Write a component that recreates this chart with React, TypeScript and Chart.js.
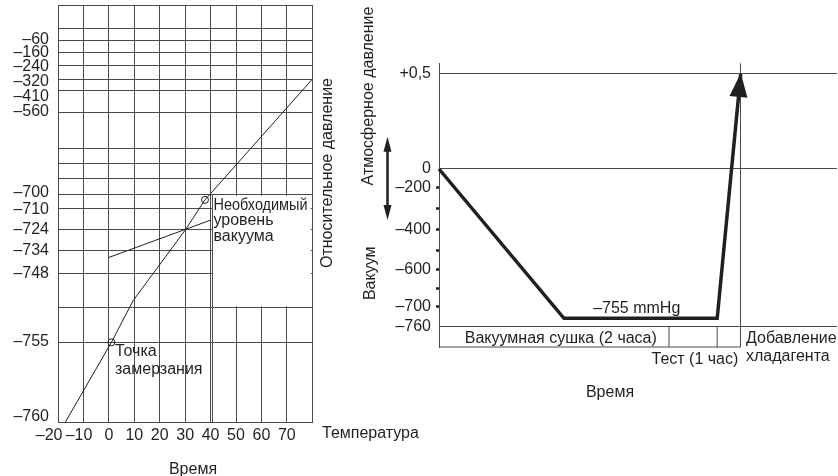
import React, { useEffect, useRef } from 'react';
import { Chart, registerables } from 'chart.js';

Chart.register(...registerables);

const FONT = '"Liberation Sans", Arial, Helvetica, sans-serif';
const FS = 16;
const INK = '#231f20';
const GRID = '#4a4a4a';

// ---------- Left chart: water boiling point vs. vacuum ----------
const TEMP_TICKS = [-20, -10, 0, 10, 20, 30, 40, 50, 60, 70, 80];
const TEMP_LABELS = ['–20\u2007\u2007', '–10\u2007', '0', '10', '20', '30', '40', '50', '60', '70', ''];
// schematic (non-linear) pressure axis: position of each grid line, bottom = 0
const PRESS_GRID_POS = [0, 80.4, 115, 149.4, 172.7, 193.4, 214.4, 228.5, 244.4, 259.4, 274.4, 310.4, 332, 343.7, 357, 370.4, 382.7, 394.4, 418];
const PRESS_LABELS = ['–60', '–160', '–240', '–320', '–410', '–560', '–700', '–710', '–724', '–734', '–748', '–755', '–760'];
const PRESS_LABEL_POS = [383.4, 370.4, 356, 341, 326, 311, 230, 213.7, 193.4, 172.7, 149.7, 80.7, 5.7];
const CURVE_TEMP = [-17.25, 1, 9.5, 30.2, 37.8, 80];
const CURVE_POS = [0, 80.4, 122, 193.4, 223, 343.7];
const REQ_LINE_TEMP = [0, 40];
const REQ_LINE_POS = [165.4, 202.7];
const MARK_TEMP = [1, 37.8];
const MARK_POS = [80.4, 223];
const BOX_TEMP = [40, 80];
const BOX_POS = [115, 228.5];
const BOX_EDGE_TEMP = 40.75;

// ---------- Right chart: evacuation procedure ----------
const PROFILE_TIME = [0, 31.4, 69.9, 75.8];
const PROFILE_POS = [178, 28.7, 28.7, 273];
const STAGE_EDGES = [57.8, 69.9, 75.8];
const STAGE_ROW_POS = [0, 20.3];
const VAC_LABELS = ['+0,5', '0', '–200', '', '–400', '', '–600', '', '–700', '–760'];
const VAC_POS = [273, 178, 159.3, 138, 117.5, 97, 77, 58.7, 40.3, 20.3];
const VAC_KIND = ['line', 'line', 'dot', 'dot', 'dot', 'dot', 'dot', 'dot', 'dot', 'line'];

const font = { family: FONT, size: FS };

const LEFT_Y_TICKS = [
  ...PRESS_GRID_POS.map((p) => ({ pos: p, label: '' })),
  ...PRESS_LABEL_POS.map((p, i) => ({ pos: p, label: PRESS_LABELS[i] })),
].sort((a, b) => a.pos - b.pos);

function zeroPad(s: any) {
  s.paddingTop = 0;
  s.paddingBottom = 0;
  s.paddingLeft = 0;
  s.paddingRight = 0;
}

function text(ctx: CanvasRenderingContext2D, s: string, x: number, y: number, align: CanvasTextAlign = 'left', maxW?: number) {
  ctx.textAlign = align;
  if (maxW) ctx.fillText(s, x, y, maxW);
  else ctx.fillText(s, x, y);
}

function rotText(ctx: CanvasRenderingContext2D, s: string, cx: number, cy: number) {
  ctx.save();
  ctx.translate(cx, cy);
  ctx.rotate(-Math.PI / 2);
  ctx.textAlign = 'center';
  ctx.textBaseline = 'middle';
  ctx.fillText(s, 0, 0);
  ctx.restore();
}

const leftPlugin = {
  id: 'leftDeco',
  beforeDatasetsDraw(chart: any) {
    const { ctx, scales } = chart;
    const x = scales.x, y = scales.y;
    const x0 = x.getPixelForValue(BOX_TEMP[0]) + 1.5;
    const x1 = x.getPixelForValue(BOX_TEMP[1]) - 1.5;
    const yT = y.getPixelForValue(BOX_POS[1]) + 1.5;
    const yB = y.getPixelForValue(BOX_POS[0]) - 1.5;
    ctx.save();
    ctx.fillStyle = '#fff';
    ctx.fillRect(x0, yT, x1 - x0, yB - yT);
    ctx.restore();
  },
  afterDraw(chart: any) {
    const { ctx } = chart;
    ctx.save();
    ctx.font = `${FS}px ${FONT}`;
    ctx.fillStyle = INK;
    ctx.textBaseline = 'alphabetic';
    text(ctx, 'Необходимый', 213.5, 209.5, 'left', 94);
    text(ctx, 'уровень', 213.5, 225);
    text(ctx, 'вакуума', 213.5, 240.5);
    text(ctx, 'Точка', 115, 356);
    text(ctx, 'замерзания', 115, 374);
    text(ctx, 'Температура', 322, 437.5);
    text(ctx, 'Время', 193, 473.5, 'center');
    ctx.restore();
  },
};

const rightPlugin = {
  id: 'rightDeco',
  afterDatasetsDraw(chart: any) {
    const { ctx } = chart;
    const meta = chart.getDatasetMeta(0);
    const pts = meta.data;
    const p1 = pts[pts.length - 2], p2 = pts[pts.length - 1];
    const dx = p2.x - p1.x, dy = p2.y - p1.y;
    const len = Math.hypot(dx, dy);
    const ux = dx / len, uy = dy / len;
    const nx = -uy, ny = ux;
    const tipX = p2.x + ux * 1, tipY = p2.y + uy * 1;
    const bx = tipX - ux * 24, by = tipY - uy * 24;
    ctx.save();
    ctx.fillStyle = INK;
    ctx.beginPath();
    ctx.moveTo(tipX, tipY);
    ctx.lineTo(bx + nx * 9, by + ny * 9);
    ctx.lineTo(bx - nx * 9, by - ny * 9);
    ctx.closePath();
    ctx.fill();
    ctx.restore();
  },
  afterDraw(chart: any) {
    const { ctx } = chart;
    ctx.save();
    ctx.font = `${FS}px ${FONT}`;
    ctx.fillStyle = INK;
    ctx.textBaseline = 'alphabetic';
    text(ctx, '–755 mmHg', 636.7, 313.3, 'center');
    text(ctx, 'Вакуумная сушка (2 часа)', 560.8, 342.5, 'center');
    text(ctx, 'Тест (1 час)', 738.3, 364, 'right');
    text(ctx, 'Добавление', 746, 342.7);
    text(ctx, 'хладагента', 746, 360.7);
    text(ctx, 'Время', 610, 397.3, 'center');
    rotText(ctx, 'Относительное давление', 327.5, 173);
    rotText(ctx, 'Атмосферное давление', 368.6, 96);
    rotText(ctx, 'Вакуум', 371, 273.3);
    // double arrow
    const ax = 387.5, aTop = 136.7, aBot = 220;
    ctx.strokeStyle = INK;
    ctx.lineWidth = 2.5;
    ctx.beginPath();
    ctx.moveTo(ax, aTop + 10);
    ctx.lineTo(ax, aBot - 10);
    ctx.stroke();
    ctx.beginPath();
    ctx.moveTo(ax, aTop);
    ctx.lineTo(ax + 4, aTop + 15);
    ctx.lineTo(ax - 4, aTop + 15);
    ctx.closePath();
    ctx.fill();
    ctx.beginPath();
    ctx.moveTo(ax, aBot);
    ctx.lineTo(ax + 4, aBot - 15);
    ctx.lineTo(ax - 4, aBot - 15);
    ctx.closePath();
    ctx.fill();
    ctx.restore();
  },
};

const common = {
  animation: false as const,
  responsive: false,
  devicePixelRatio: 1,
  events: [] as any[],
  plugins: { legend: { display: false }, tooltip: { enabled: false } },
};

function leftConfig(): any {
  return {
    type: 'line',
    data: {
      datasets: [
        {
          data: CURVE_TEMP.map((t, i) => ({ x: t, y: CURVE_POS[i] })),
          borderColor: INK, borderWidth: 1, pointRadius: 0, clip: false,
        },
        {
          data: REQ_LINE_TEMP.map((t, i) => ({ x: t, y: REQ_LINE_POS[i] })),
          borderColor: INK, borderWidth: 1, pointRadius: 0, clip: false,
        },
        {
          data: [{ x: BOX_EDGE_TEMP, y: 0 }, { x: BOX_EDGE_TEMP, y: BOX_POS[1] }],
          borderColor: GRID, borderWidth: 1, pointRadius: 0, clip: false,
        },
        {
          data: MARK_TEMP.map((t, i) => ({ x: t, y: MARK_POS[i] })),
          showLine: false, pointRadius: 3.5, pointBackgroundColor: 'rgba(0,0,0,0)',
          pointBorderColor: INK, pointBorderWidth: 1, clip: false,
        },
      ],
    },
    options: {
      ...common,
      layout: { padding: { left: 0, top: 4.7, right: 838 - 312.3, bottom: 0 } },
      scales: {
        x: {
          type: 'linear', min: -20, max: 80,
          afterFit: (s: any) => { s.height = 476 - 422.7; zeroPad(s); },
          afterBuildTicks: (s: any) => { s.ticks = TEMP_TICKS.map((v) => ({ value: v })); },
          ticks: { autoSkip: false, maxRotation: 0, padding: 3, color: INK, font, callback: (_v: any, i: number) => TEMP_LABELS[i] },
          grid: { color: GRID, drawTicks: false, lineWidth: 1 },
          border: { display: true, color: GRID },
        },
        y: {
          type: 'linear', min: 0, max: 418,
          afterFit: (s: any) => { s.width = 58; zeroPad(s); },
          afterBuildTicks: (s: any) => { s.ticks = LEFT_Y_TICKS.map((t) => ({ value: t.pos })); },
          ticks: { autoSkip: false, padding: 9, color: INK, font, callback: (_v: any, i: number) => LEFT_Y_TICKS[i].label },
          grid: {
            drawTicks: false, lineWidth: 1,
            color: (c: any) => (LEFT_Y_TICKS[c.index] && LEFT_Y_TICKS[c.index].label ? 'rgba(0,0,0,0)' : GRID),
          },
          border: { display: true, color: GRID },
        },
      },
    },
    plugins: [leftPlugin],
  };
}

function rightConfig(): any {
  return {
    type: 'line',
    data: {
      datasets: [
        {
          data: PROFILE_TIME.map((t, i) => ({ x: t, y: PROFILE_POS[i] })),
          borderColor: INK, borderWidth: 3.5, pointRadius: 0, clip: false,
          borderJoinStyle: 'miter', borderCapStyle: 'butt',
        },
        {
          data: [{ x: 0, y: STAGE_ROW_POS[0] }, { x: STAGE_EDGES[2], y: STAGE_ROW_POS[0] }],
          borderColor: GRID, borderWidth: 1, pointRadius: 0, clip: false,
        },
        {
          data: [{ x: STAGE_EDGES[0], y: STAGE_ROW_POS[0] }, { x: STAGE_EDGES[0], y: STAGE_ROW_POS[1] }],
          borderColor: GRID, borderWidth: 1, pointRadius: 0, clip: false,
        },
        {
          data: [{ x: STAGE_EDGES[1], y: STAGE_ROW_POS[0] }, { x: STAGE_EDGES[1], y: STAGE_ROW_POS[1] }],
          borderColor: GRID, borderWidth: 1, pointRadius: 0, clip: false,
        },
      ],
    },
    options: {
      ...common,
      layout: { padding: { left: 0, top: 63.3, right: 1, bottom: 0 } },
      scales: {
        x: {
          type: 'linear', min: 0, max: 100,
          afterFit: (s: any) => { s.height = 476 - 347; zeroPad(s); },
          afterBuildTicks: (s: any) => { s.ticks = [{ value: STAGE_EDGES[2] }]; },
          ticks: { display: false },
          grid: { color: GRID, drawTicks: false, lineWidth: 1 },
          border: { display: false },
        },
        y: {
          type: 'linear', min: 0, max: 283.7,
          afterFit: (s: any) => { s.width = 439; zeroPad(s); },
          afterBuildTicks: (s: any) => { s.ticks = VAC_POS.map((p) => ({ value: p })); },
          ticks: { autoSkip: false, padding: 5, color: INK, font, callback: (_v: any, i: number) => VAC_LABELS[i] },
          grid: {
            drawTicks: true, tickLength: 3, tickWidth: 2.5, lineWidth: 1,
            color: (c: any) => (VAC_KIND[c.index] === 'line' ? GRID : 'rgba(0,0,0,0)'),
            tickColor: (c: any) => (VAC_KIND[c.index] === 'dot' ? INK : 'rgba(0,0,0,0)'),
          },
          border: { display: true, color: GRID },
        },
      },
    },
    plugins: [rightPlugin],
  };
}

export default function App() {
  const leftRef = useRef<HTMLCanvasElement>(null);
  const rightRef = useRef<HTMLCanvasElement>(null);
  useEffect(() => {
    const l = new Chart(leftRef.current as HTMLCanvasElement, leftConfig());
    const r = new Chart(rightRef.current as HTMLCanvasElement, rightConfig());
    return () => {
      l.destroy();
      r.destroy();
    };
  }, []);
  return (
    <div style={{ position: 'fixed', left: 0, top: 0, width: 838, height: 476, background: '#fff' }}>
      <canvas ref={leftRef} width={838} height={476} style={{ position: 'absolute', left: 0, top: 0 }} />
      <canvas ref={rightRef} width={838} height={476} style={{ position: 'absolute', left: 0, top: 0 }} />
    </div>
  );
}
